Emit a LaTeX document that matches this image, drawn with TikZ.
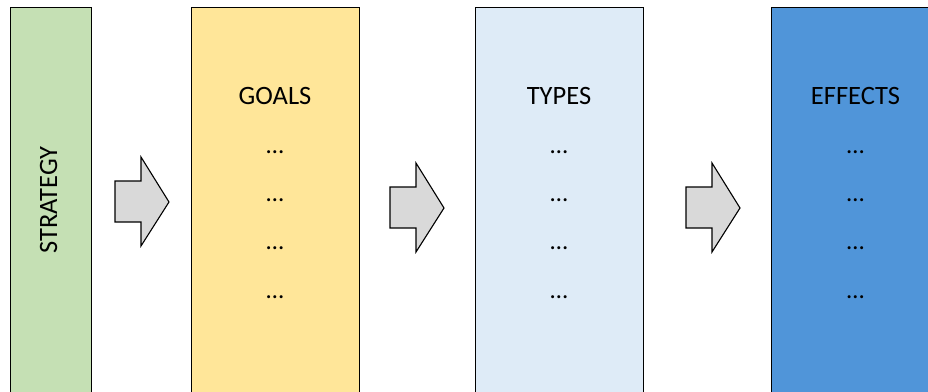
\documentclass[tikz,border=0pt]{standalone}
\usepackage{fontspec}
\setmainfont{Carlito}
\definecolor{stratgreen}{HTML}{C5E0B4}
\definecolor{goalyellow}{HTML}{FFE699}
\definecolor{typeblue}{HTML}{DEEBF7}
\definecolor{effectblue}{HTML}{5095D9}
\definecolor{arrowgray}{HTML}{D9D9D9}
\tikzset{
  column/.style={draw=black, line width=1.3pt, anchor=north west, inner sep=0pt},
  heading/.style={anchor=base, font=\fontsize{26.5}{30}\selectfont},
  dots/.style={anchor=base, font=\fontsize{25}{28}\selectfont},
  blockarrow/.style={draw=black, fill=arrowgray, line width=1.1pt, line join=miter}
}
\begin{document}
\begin{tikzpicture}[x=1pt, y=-1pt]
    \useasboundingbox (0,0) rectangle (928,391);
    \clip (0,0) rectangle (928,391);
    % Columns
    \node[column, fill=stratgreen, minimum width=81pt, minimum height=400pt] (strategy) at (10,7) {};
    \node[column, fill=goalyellow, minimum width=168pt, minimum height=400pt] (goals) at (191,7) {};
    \node[column, fill=typeblue, minimum width=168pt, minimum height=400pt] (types) at (475,7) {};
    \node[column, fill=effectblue, minimum width=169pt, minimum height=400pt] (effects) at (771,7) {};
    % Labels
    \node[heading, rotate=90] (stratlabel) at (57,200) {STRATEGY};
    \node[heading] (goalslabel) at (275,104) {GOALS};
    \node[heading] (typeslabel) at (559,104) {TYPES};
    \node[heading] (effectslabel) at (855.5,104) {EFFECTS};
    % Dots
    \foreach \cx/\col in {275/goals, 559/types, 855.5/effects}
      \foreach \cy [count=\i] in {153, 201.5, 249.5, 298}
        \node[dots] (\col dots\i) at (\cx,\cy) {…};
    % Arrows
    \foreach \ax/\ay in {115/157, 390/163, 686/163}
      \draw[blockarrow] (\ax,\ay+24) -- (\ax+26,\ay+24) -- (\ax+26,\ay)
        -- (\ax+54,\ay+45) -- (\ax+26,\ay+89) -- (\ax+26,\ay+65)
        -- (\ax,\ay+65) -- cycle;
\end{tikzpicture}
\end{document}
